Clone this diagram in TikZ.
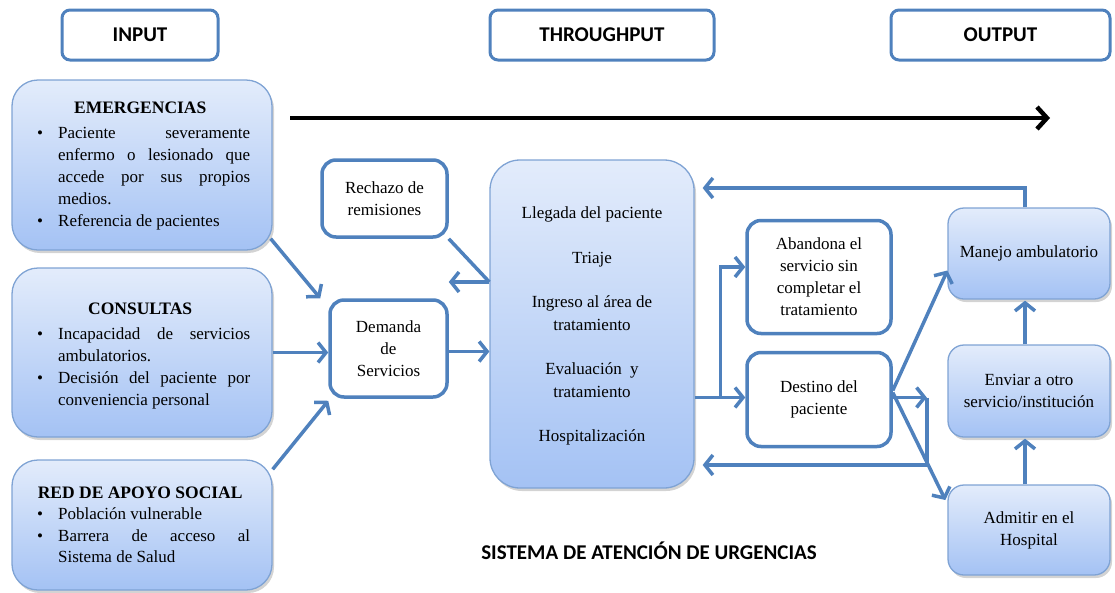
\documentclass[tikz,border=0pt]{standalone}
\usepackage{fontspec}
\setmainfont{Liberation Serif}
\newfontfamily\hdrfont{Carlito}
\usetikzlibrary{arrows.meta,calc,shadows}
\definecolor{blu}{HTML}{4F81BD}
\definecolor{gtop}{HTML}{E3ECFB}
\definecolor{gbot}{HTML}{A4C2F4}
\definecolor{gedge}{HTML}{7FA3D4}
\newcommand\bitem[1]{\par\hangindent=28pt\hangafter=1\noindent\hspace*{7pt}\makebox[21pt][l]{\textbullet}#1\par}
\newcommand\lhead[1]{\par{\centering\fontsize{17.5}{22}\selectfont\bfseries #1\par}}
\tikzset{
  hdr/.style={draw=blu, line width=3pt, rounded corners=8pt, fill=white,
    font=\hdrfont\bfseries\fontsize{21}{22}\selectfont, inner sep=0pt},
  gbox/.style={draw=gedge, line width=1.3pt, rounded corners=20pt, top color=gtop, bottom color=gbot,
    drop shadow={shadow xshift=2pt, shadow yshift=-3pt, opacity=0.35},
    font=\fontsize{17}{22}\selectfont, align=center, inner sep=0pt},
  wbox/.style={draw=blu, line width=3.5pt, rounded corners=14pt, fill=white,
    font=\fontsize{17}{22}\selectfont, align=center, inner sep=0pt},
  arr/.style={draw=blu, line width=3.5pt, -{Straight Barb[length=8pt,width=20pt]}},
  lin/.style={draw=blu, line width=3.5pt},
  listtext/.style={text width=220pt, align=justify, inner sep=0pt, font=\fontsize{17}{22}\selectfont}
}
\begin{document}
\begin{tikzpicture}[x=1pt,y=-1pt]
\useasboundingbox (0,0) rectangle (1115,592);
% headers
\node[hdr, minimum width=156pt, minimum height=50pt] (hin) at (140,35) {INPUT};
\node[hdr, minimum width=224pt, minimum height=50pt] (hth) at (602,35) {THROUGHPUT};
\node[hdr, minimum width=219pt, minimum height=50pt] (hout) at (1000.5,35) {OUTPUT};
% black arrow
\coordinate (ka) at (290,118);
\coordinate (kb) at (1050,118);
\draw[line width=4.5pt, -{Straight Barb[length=10pt,width=22pt]}] (ka) -- (kb);
% input boxes
\node[gbox, rounded corners=26pt, minimum width=260pt, minimum height=170pt] (emerg) at (142,165) {};
\node[listtext, anchor=north west] (emergt) at (30,91) {\lhead{EMERGENCIAS}\vspace{3pt}%
\bitem{Paciente severamente\linebreak enfermo o lesionado que\linebreak accede por sus propios\linebreak medios.}%
\bitem{Referencia de pacientes}};
\node[gbox, rounded corners=26pt, minimum width=260pt, minimum height=169pt] (cons) at (142,352.5) {};
\node[listtext, anchor=north west] (const) at (30,292) {\lhead{CONSULTAS}\vspace{3pt}%
\bitem{Incapacidad de servicios\linebreak ambulatorios.}%
\bitem{Decisión del paciente por\linebreak conveniencia personal}};
\node[gbox, rounded corners=26pt, minimum width=260pt, minimum height=130pt] (red) at (142,525) {};
\node[listtext, anchor=north west, font=\fontsize{17}{21.5}\selectfont] (redt) at (30,476) {\lhead{RED DE APOYO SOCIAL}%
\bitem{Población vulnerable}%
\bitem{Barrera de acceso al\linebreak Sistema de Salud}};
% middle
\node[wbox, minimum width=125pt, minimum height=77pt] (rech) at (384.5,198.5) {Rechazo de\\remisiones};
\node[wbox, minimum width=117pt, minimum height=97pt] (dem) at (388.5,348.5) {Demanda\\de\\Servicios};
\node[gbox, rounded corners=30pt, minimum width=204pt, minimum height=328pt] (big) at (592,324) {};
\node[font=\fontsize{17}{22.5}\selectfont, align=center] (bigt) at (592,326) {Llegada del paciente\\[22pt]Triaje\\[22pt]Ingreso al área de\\tratamiento\\[22pt]Evaluación\ \ y\\tratamiento\\[22pt]Hospitalización};
\node[wbox, minimum width=144pt, minimum height=113pt] (aband) at (819,277) {Abandona el\\servicio sin\\completar el\\tratamiento};
\node[wbox, minimum width=144pt, minimum height=94pt] (dest) at (819,399.5) {Destino del\\paciente};
% output
\node[gbox, rounded corners=16pt, minimum width=162pt, minimum height=91pt] (man) at (1029,253.5) {Manejo ambulatorio};
\node[gbox, rounded corners=16pt, minimum width=162pt, minimum height=92pt] (env) at (1029,391) {Enviar a otro\\servicio/institución};
\node[gbox, rounded corners=16pt, minimum width=162pt, minimum height=90pt] (adm) at (1029,530) {Admitir en el\\Hospital};
% title
\node[font=\hdrfont\bfseries\fontsize{21}{22}\selectfont] (title) at (649,551) {SISTEMA DE ATENCIÓN DE URGENCIAS};
% connectors
\draw[arr] ($(emerg.south east)+(-2,-12)$) -- ($(dem.north west)+(-8,0)$);
\draw[arr] (cons.east) -- (dem.west |- cons.east);
\draw[arr] ($(red.north east)+(0,10)$) -- ($(dem.south west)+(0,2)$);
\draw[arr] ($(dem.east)+(0,3)$) -- ($(big.west |- dem.east)+(0,3)$);
\coordinate (b1) at ($(big.west)+(0,-42)$);
\draw[arr] (b1) -- (rech.east |- b1);
\draw[lin] (rech.south east) -- (b1);
\coordinate (sp) at ($(big.east |- dest.west)+(26,-2)$);
\draw[lin] ($(big.east |- dest.west)+(0,-2)$) -- (sp);
\draw[arr] (sp) -- ($(dest.west)+(0,-2)$);
\draw[arr] (sp) |- ($(aband.west)+(0,-10)$);
\coordinate (mt) at ($(man.north)+(-4,0)$);
\draw[arr] (mt) |- ($(big.east)+(8,-136)$);
\coordinate (dr) at ($(dest.east)+(0,-2)$);
\coordinate (dj) at ($(dest.east)+(34,-2)$);
\draw[arr] (dr) -- (dj);
\draw[arr] (dj) |- ($(big.east)+(8,141)$);
\draw[arr] ($(dest.east)+(0,-9)$) -- ($(man.west)+(0,17)$);
\draw[arr] ($(dest.east)+(0,-7)$) -- ($(adm.west)+(-2,-30)$);
\draw[arr] ($(adm.north)+(-4,0)$) -- ($(env.south)+(-4,1)$);
\draw[arr] ($(env.north)+(-4,0)$) -- ($(man.south)+(-4,1)$);
\end{tikzpicture}
\end{document}
